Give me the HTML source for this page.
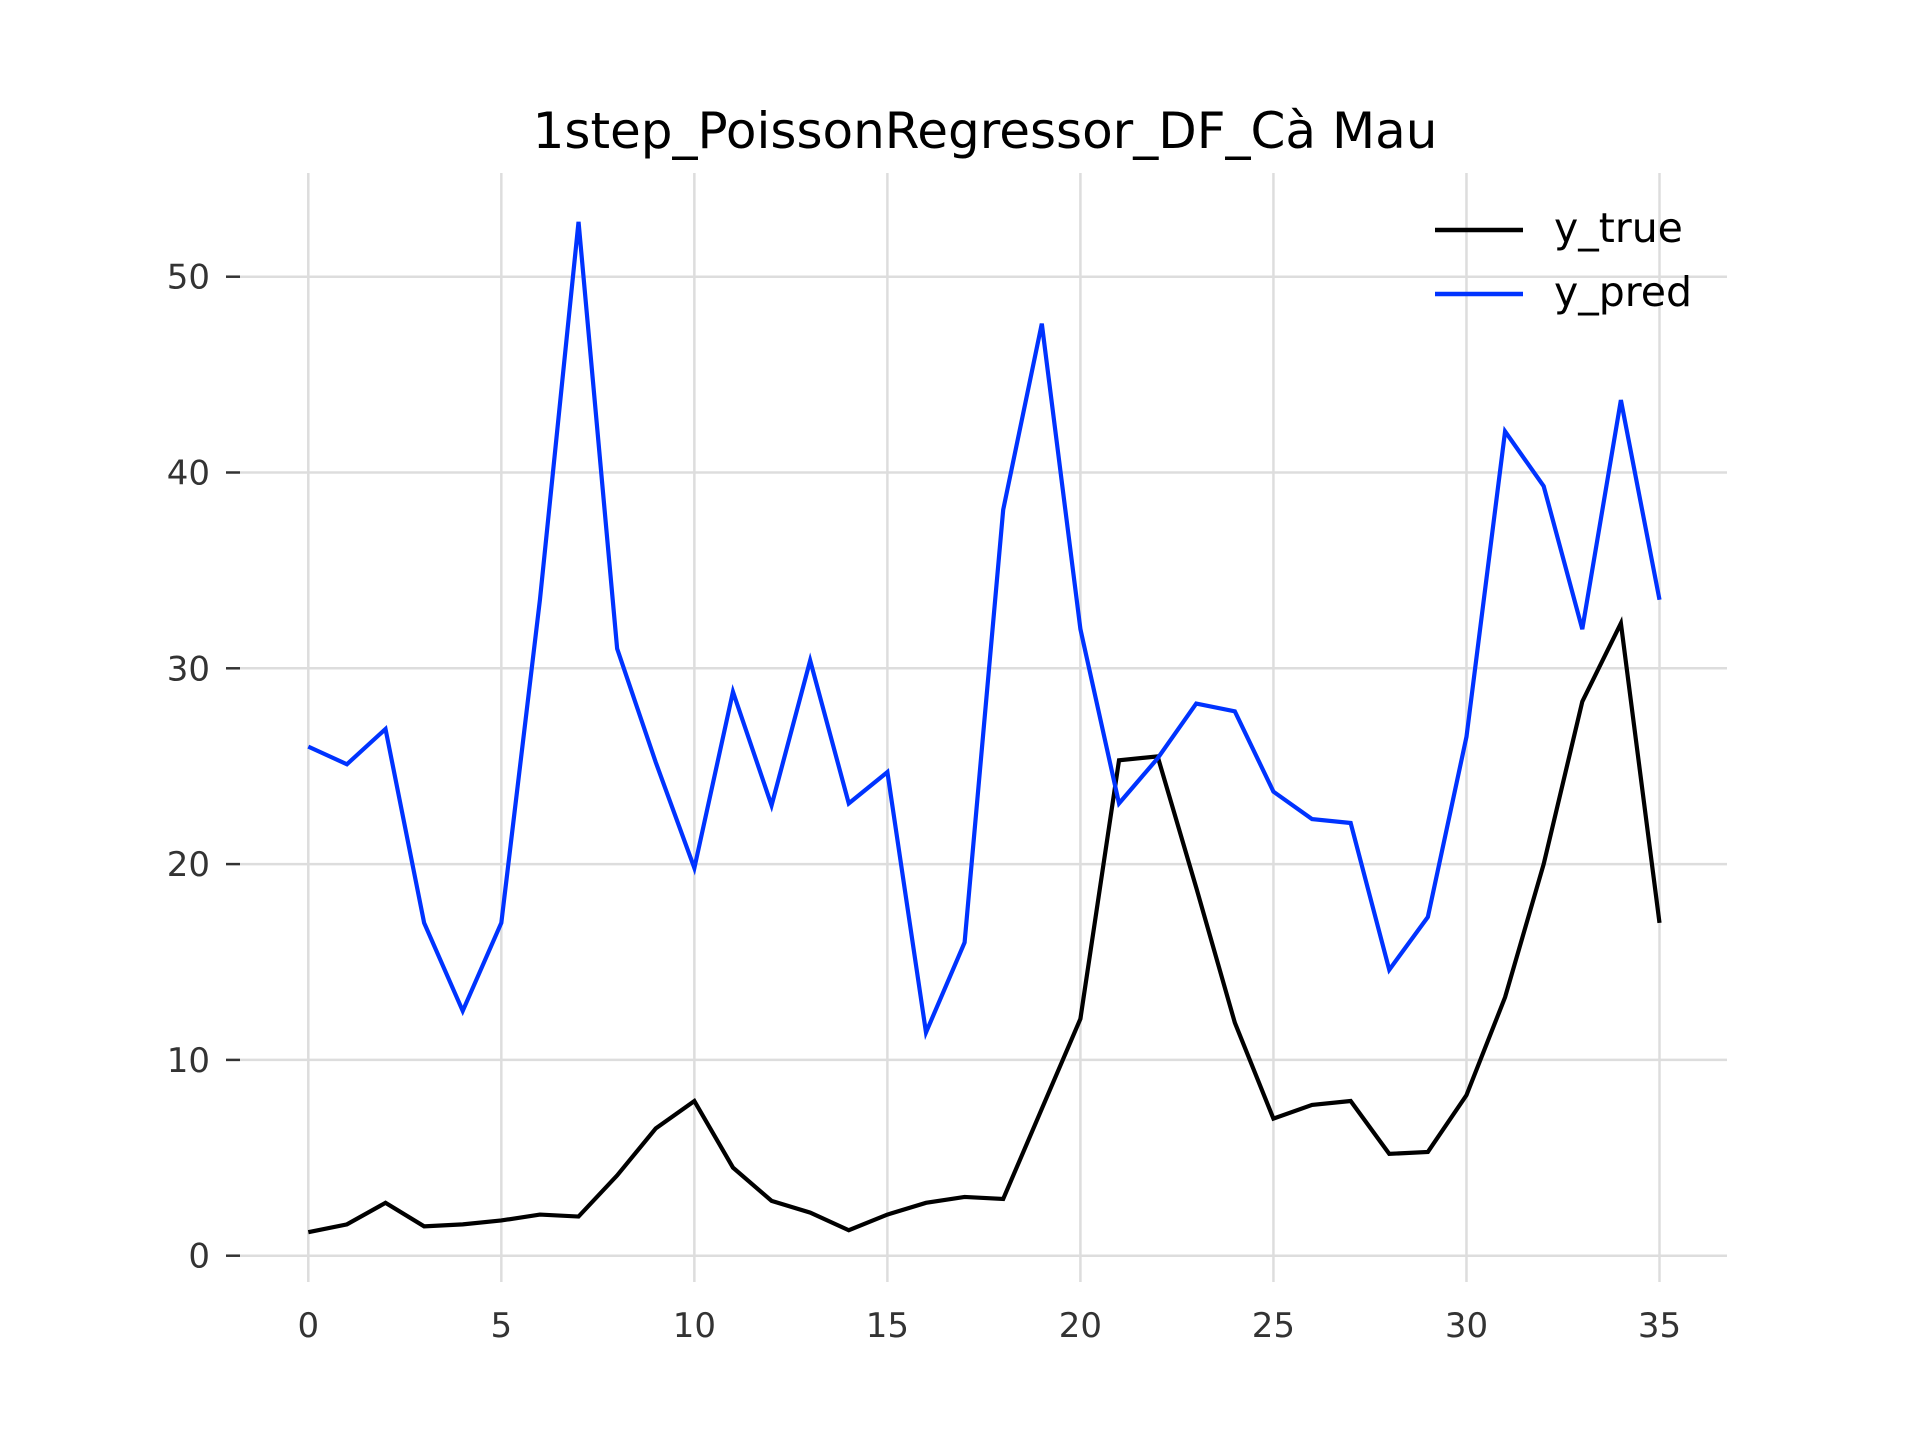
<!DOCTYPE html>
<html><head><meta charset="utf-8"><style>
html,body{margin:0;padding:0;background:#fff;}
svg{display:block;font-family:"DejaVu Sans","Liberation Sans",sans-serif;}
</style></head><body>
<svg id="chart" width="1920" height="1440" viewBox="0 0 1920 1440" xmlns="http://www.w3.org/2000/svg">
<rect width="1920" height="1440" fill="#fff"/>
<text x="985" y="148" text-anchor="middle" font-size="50" fill="#000">1step_PoissonRegressor_DF_Cà Mau</text>
<g id="grid"></g><g id="axes"></g><g id="series"></g>
<g>
<line x1="1435" y1="230" x2="1523" y2="230" stroke="#000" stroke-width="4.5"/>
<text x="1554" y="242" font-size="41" fill="#000">y_true</text>
<line x1="1435" y1="294" x2="1523" y2="294" stroke="#0033ff" stroke-width="4.5"/>
<text x="1554" y="306" font-size="41" fill="#000">y_pred</text>
</g>
</svg>
<script>
const xTicks=[0,5,10,15,20,25,30,35];
const yTicks=[0,10,20,30,40,50];
const yTrue=[1.2,1.6,2.7,1.5,1.6,1.8,2.1,2.0,4.1,6.5,7.9,4.5,2.8,2.2,1.3,2.1,2.7,3.0,2.9,7.5,12.1,25.3,25.5,18.8,11.9,7.0,7.7,7.9,5.2,5.3,8.2,13.2,20.0,28.3,32.3,17.0];
const yPred=[26.0,25.1,26.9,17.0,12.5,17.0,33.5,52.8,31.0,25.2,19.8,28.8,23.0,30.4,23.1,24.7,11.4,16.0,38.1,47.6,32.0,23.1,25.4,28.2,27.8,23.7,22.3,22.1,14.6,17.3,26.5,42.1,39.3,32.0,43.7,33.5];
const NS="http://www.w3.org/2000/svg";
function sx(v){return 308.3+v*(1659.5-308.3)/35;}
function sy(v){return 1255.7-v*(1255.7-276.7)/50;}
function mk(tag,attrs,parent){const e=document.createElementNS(NS,tag);for(const k in attrs)e.setAttribute(k,attrs[k]);parent.appendChild(e);return e;}
const grid=document.getElementById('grid'),axes=document.getElementById('axes'),series=document.getElementById('series');
xTicks.forEach(t=>{
  const l=mk('line',{x1:sx(t),x2:sx(t),y1:173,y2:1282,stroke:'#dddddd','stroke-width':2.5},grid);
  
  
  const tx=mk('text',{x:sx(t),y:1337,'text-anchor':'middle','font-size':34,fill:'#333'},axes);
  tx.textContent=t;
  
  
});
yTicks.forEach(t=>{
  const l=mk('line',{x1:240,x2:1727,y1:sy(t),y2:sy(t),stroke:'#dddddd','stroke-width':2.5},grid);
  
  
  const tk=mk('line',{x1:226,x2:240,y1:sy(t),y2:sy(t),stroke:'#333','stroke-width':2.5},axes);
  
  
  const tx=mk('text',{x:210,y:sy(t)+12,'text-anchor':'end','font-size':34,fill:'#333'},axes);
  tx.textContent=t;
  
  
});
function line(data,color,name){
  const p=mk('polyline',{points:data.map((v,i)=>sx(i)+','+sy(v)).join(' '),fill:'none',stroke:color,'stroke-width':4.2,'stroke-linejoin':'miter'},series);
  
  
}
line(yTrue,'#000000','y-true-line');
line(yPred,'#0033ff','y-pred-line');
</script>
</body></html>
